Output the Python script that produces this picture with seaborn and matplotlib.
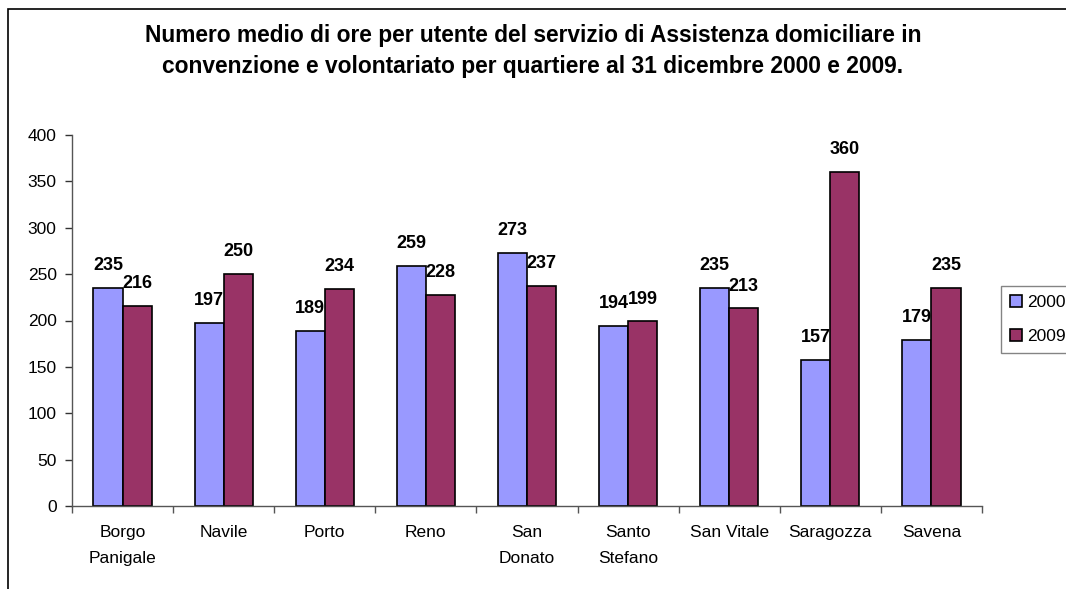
import numpy as np
import matplotlib
matplotlib.use("Agg")
import matplotlib.pyplot as plt
from matplotlib.patches import Rectangle
import seaborn as sns
import pandas as pd

quartieri = ["Borgo\nPanigale", "Navile", "Porto", "Reno", "San\nDonato",
             "Santo\nStefano", "San Vitale", "Saragozza", "Savena"]
anni = ["2000", "2009"]
ore_2000 = [235, 197, 189, 259, 273, 194, 235, 157, 179]
ore_2009 = [216, 250, 234, 228, 237, 199, 213, 360, 235]
colori = ["#9999FF", "#993366"]

df = pd.DataFrame({
    "quartiere": quartieri * 2,
    "anno": [anni[0]] * len(quartieri) + [anni[1]] * len(quartieri),
    "ore": ore_2000 + ore_2009,
})

sns.set_style("white")
plt.rcParams['font.family'] = ['Liberation Sans', 'DejaVu Sans']
plt.rcParams['text.color'] = 'black'
plt.rcParams['xtick.color'] = 'black'
plt.rcParams['ytick.color'] = 'black'

fig = plt.figure(figsize=(10.66, 5.89), dpi=100)
ax = fig.add_axes([72/1066, 1 - 506/589, 910/1066, 371/589])

sns.barplot(data=df, x="quartiere", y="ore", hue="anno", palette=colori,
            width=0.575, edgecolor="black", linewidth=1.2, saturation=1,
            ax=ax, legend=True)

for cont in ax.containers:
    ax.bar_label(cont, padding=10, fontsize=13, fontweight="bold",
                 color="black")

ax.set_xlim(-0.5, len(quartieri) - 0.5)
ax.set_ylim(0, 400)
ax.set_yticks(np.arange(0, 401, 50))
ax.set_xlabel("")
ax.set_ylabel("")
ax.tick_params(axis="y", direction="out", length=5, width=1, color="#333333",
               labelsize=12.5, pad=6, left=True)
ax.tick_params(axis="x", which="major", length=0, labelsize=12.5, pad=14)
for t in ax.get_xticklabels():
    t.set_linespacing(1.85)
ax.set_xticks(np.arange(-0.5, len(quartieri), 1), minor=True)
ax.tick_params(axis="x", which="minor", direction="out", length=5, width=1,
               color="#555555", bottom=True)
for s in ["top", "right"]:
    ax.spines[s].set_visible(False)
for s in ["left", "bottom"]:
    ax.spines[s].set_color("#555555")
    ax.spines[s].set_linewidth(1)

leg = ax.legend(loc="upper left", bbox_to_anchor=(1001/1066, 1 - 286/589),
                bbox_transform=fig.transFigure, frameon=True, fancybox=False,
                fontsize=12.5, handlelength=0.7, handleheight=0.7,
                handletextpad=0.3, borderpad=0.5, labelspacing=1.1,
                borderaxespad=0)
leg.get_frame().set_edgecolor("#666666")
leg.get_frame().set_linewidth(1)

fig.text(0.5, 1 - 51/589,
         "Numero medio di ore per utente del servizio di Assistenza domiciliare in\n"
         "convenzione e volontariato per quartiere al 31 dicembre 2000 e 2009.",
         ha="center", va="center", fontsize=16.4, fontweight="bold",
         linespacing=1.4)

fig.patches.append(Rectangle((8/1066, -0.1), 1.2, 1 - 9/589 + 0.1,
                             transform=fig.transFigure, fill=False,
                             edgecolor="black", linewidth=1.2))

fig.savefig("out.png", dpi=100)
